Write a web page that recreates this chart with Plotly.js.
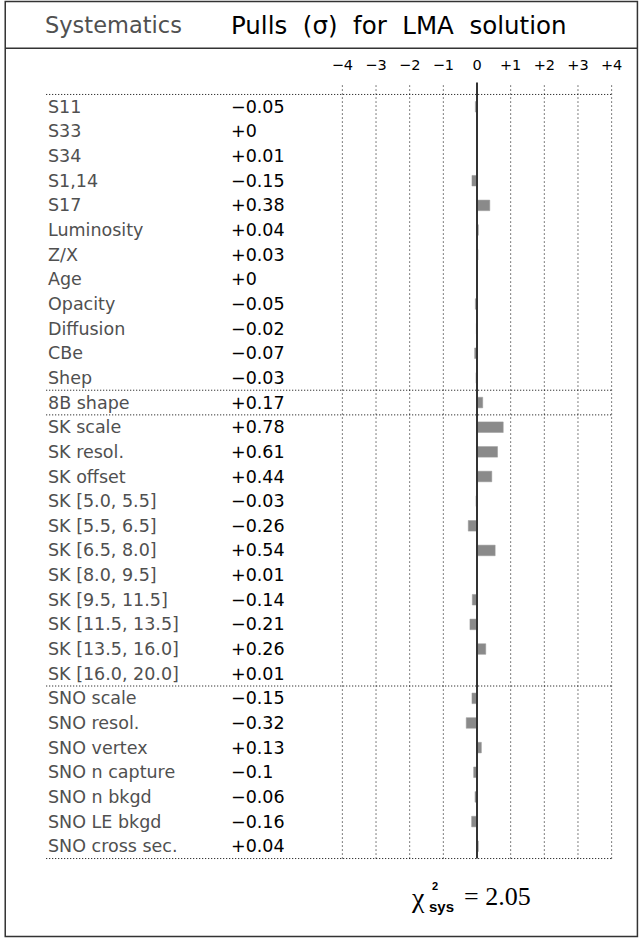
<!DOCTYPE html>
<html>
<head>
<meta charset="utf-8">
<script src="https://cdn.plot.ly/plotly-3.0.1.min.js"></script>
<style>html,body{margin:0;padding:0;background:#fff;}#chart{width:639px;height:939px;}</style>
</head>
<body>
<div id="chart"></div>
<script>
// ---------------- data ----------------
const systematics = [
  'S11','S33','S34','S1,14','S17','Luminosity','Z/X','Age','Opacity','Diffusion','CBe','Shep',
  '8B shape',
  'SK scale','SK resol.','SK offset','SK [5.0, 5.5]','SK [5.5, 6.5]','SK [6.5, 8.0]','SK [8.0, 9.5]',
  'SK [9.5, 11.5]','SK [11.5, 13.5]','SK [13.5, 16.0]','SK [16.0, 20.0]',
  'SNO scale','SNO resol.','SNO vertex','SNO n capture','SNO n bkgd','SNO LE bkgd','SNO cross sec.'
];
const pulls = [
  -0.05, 0, 0.01, -0.15, 0.38, 0.04, 0.03, 0, -0.05, -0.02, -0.07, -0.03,
  0.17,
  0.78, 0.61, 0.44, -0.03, -0.26, 0.54, 0.01, -0.14, -0.21, 0.26, 0.01,
  -0.15, -0.32, 0.13, -0.1, -0.06, -0.16, 0.04
];
const groups = [
  'solar','solar','solar','solar','solar','solar','solar','solar','solar','solar','solar','solar',
  '8B',
  'SK','SK','SK','SK','SK','SK','SK','SK','SK','SK','SK',
  'SNO','SNO','SNO','SNO','SNO','SNO','SNO'
];
const tickValues = [-4, -3, -2, -1, 0, 1, 2, 3, 4];
const tickLabels = ['\u22124', '\u22123', '\u22122', '\u22121', '0', '+1', '+2', '+3', '+4'];
const chi2Sys = 2.05;
const headerLeft = 'Systematics';
const headerRight = 'Pulls\u00a0\u00a0(\u03c3)\u00a0\u00a0for\u00a0\u00a0LMA\u00a0\u00a0solution';

// ---------------- layout geometry (pixels) ----------------
const W = 639, H = 939;
const unit = 33.675;            // px per sigma
const xMinusFour = 342.3;       // px of x = -4
const rowH = 24.66;
const topLine = 94;             // px of row index -0.5
const nRows = systematics.length;
const xPad = 0.1, yPad = 0.1;
const L = xMinusFour - xPad * unit;
const plotW = (8 + 2 * xPad) * unit;
const Rm = W - L - plotW;
const T = topLine - yPad * rowH;
const plotH = (nRows + 2 * yPad) * rowH;
const B = H - T - plotH;
const bottomPx = T + plotH;
const pX = x => (x - L) / plotW;
const pY = y => (bottomPx - y) / plotH;
const bottomLinePx = topLine + nRows * rowH;

const fmt = v => (v < 0 ? '\u2212' + String(-v) : '+' + String(v));

// ---------------- shapes ----------------
const dottedH = {color: '#000', width: 1, dash: '1px,2px'};
const dottedV = {color: '#000', width: 1, dash: '1px,3px'};
const shapes = [];
// outer frame and header rule
shapes.push({type: 'rect', xref: 'paper', yref: 'paper', x0: pX(5), x1: pX(637.5), y0: pY(1), y1: pY(936.5),
  line: {color: '#333', width: 1.5}});
shapes.push({type: 'line', xref: 'paper', yref: 'paper', x0: pX(5), x1: pX(637.5), y0: pY(47.7), y1: pY(47.7),
  line: {color: '#333', width: 1.5}});
// horizontal dotted group separators
const seps = [-0.5];
for (let i = 1; i < nRows; i++) if (groups[i] !== groups[i - 1]) seps.push(i - 0.5);
seps.push(nRows - 0.5);
const xEndPaper = (4 + 4 + xPad) / (8 + 2 * xPad);
seps.forEach(s => shapes.push({type: 'line', xref: 'paper', yref: 'y', x0: pX(46), x1: xEndPaper, y0: s, y1: s, line: dottedH}));
// vertical grid lines
tickValues.forEach(v => {
  if (v === 0) {
    shapes.push({type: 'line', xref: 'x', yref: 'paper', x0: v, x1: v, y0: pY(bottomLinePx), y1: pY(82),
      line: {color: '#333', width: 2}, layer: 'above'});
  } else {
    shapes.push({type: 'line', xref: 'x', yref: 'paper', x0: v, x1: v, y0: pY(bottomLinePx), y1: pY(84), line: dottedV});
  }
});

// ---------------- annotations ----------------
const annotations = [];
const labelFont = {family: 'DejaVu Sans', size: 17.5, color: '#505050'};
const valueFont = {family: 'DejaVu Sans', size: 17.5, color: '#000'};
systematics.forEach((s, i) => {
  annotations.push({xref: 'paper', yref: 'y', x: pX(46), y: s, text: s, showarrow: false,
    xanchor: 'left', yanchor: 'middle', font: labelFont});
  annotations.push({xref: 'paper', yref: 'y', x: pX(229), y: s, text: fmt(pulls[i]), showarrow: false,
    xanchor: 'left', yanchor: 'middle', font: valueFont});
});
annotations.push({xref: 'paper', yref: 'paper', x: pX(43), y: pY(25), text: headerLeft, showarrow: false,
  xanchor: 'left', yanchor: 'middle', font: {family: 'DejaVu Sans', size: 22.5, color: '#505050'}});
annotations.push({xref: 'paper', yref: 'paper', x: pX(229), y: pY(25), text: headerRight, showarrow: false,
  xanchor: 'left', yanchor: 'middle', font: {family: 'DejaVu Sans', size: 24.5, color: '#000'}});
// chi-square
annotations.push({xref: 'paper', yref: 'paper', x: pX(427), y: pY(897), text: '\u03c7', showarrow: false,
  xanchor: 'right', yanchor: 'middle', font: {family: 'Liberation Serif', size: 28, color: '#000'}});
annotations.push({xref: 'paper', yref: 'paper', x: pX(430), y: pY(886), text: '<b>2</b>', showarrow: false,
  xanchor: 'left', yanchor: 'middle', font: {family: 'Liberation Sans', size: 11, color: '#000'}});
annotations.push({xref: 'paper', yref: 'paper', x: pX(427), y: pY(906), text: '<b>sys</b>', showarrow: false,
  xanchor: 'left', yanchor: 'middle', font: {family: 'Liberation Sans', size: 15, color: '#000'}});
annotations.push({xref: 'paper', yref: 'paper', x: pX(462), y: pY(896), text: '= ' + chi2Sys.toFixed(2), showarrow: false,
  xanchor: 'left', yanchor: 'middle', font: {family: 'Liberation Serif', size: 26, color: '#000'}});

// ---------------- traces ----------------
const trace = {
  type: 'bar', orientation: 'h', x: pulls, y: systematics, width: 0.43,
  marker: {color: '#8a8a8a', line: {color: '#9a9a9a', width: 0.5}},
  hoverinfo: 'x+y'
};

const layout = {
  width: W, height: H,
  margin: {l: L, r: Rm, t: T, b: B, pad: 0},
  paper_bgcolor: '#fff', plot_bgcolor: 'rgba(0,0,0,0)',
  showlegend: false,
  xaxis: {range: [-4 - xPad, 4 + xPad], side: 'top', tickmode: 'array', tickvals: tickValues, ticktext: tickLabels,
    ticks: 'outside', ticklen: 15, tickcolor: 'rgba(0,0,0,0)', showgrid: false, zeroline: false, showline: false,
    tickfont: {family: 'DejaVu Sans', size: 14.5, color: '#000'}, fixedrange: true},
  yaxis: {type: 'category', categoryorder: 'array', categoryarray: systematics,
    range: [nRows - 0.5 + yPad, -0.5 - yPad], showticklabels: false, showgrid: false, zeroline: false,
    showline: false, ticks: '', fixedrange: true},
  shapes: shapes,
  annotations: annotations
};

Plotly.newPlot('chart', [trace], layout, {displayModeBar: false, staticPlot: true});
</script>
</body>
</html>
